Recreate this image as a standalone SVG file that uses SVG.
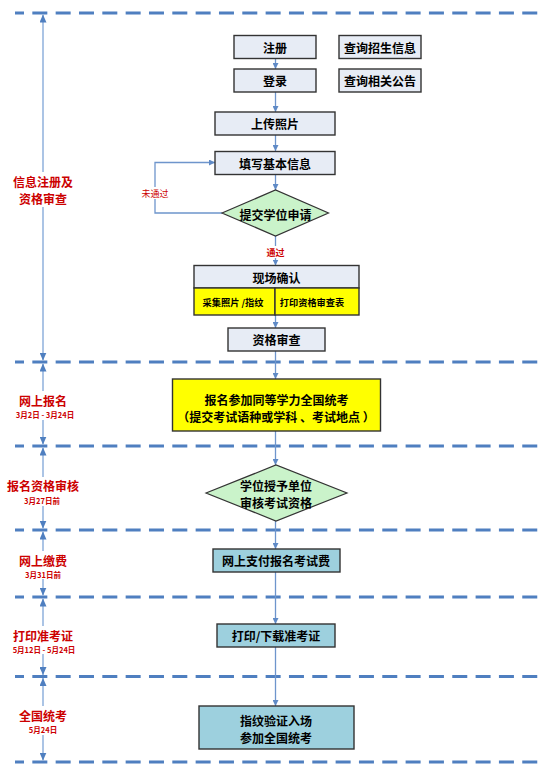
<svg xmlns="http://www.w3.org/2000/svg" width="541" height="774" viewBox="0 0 541 774">
<style>
text{font-family:"Noto Sans CJK SC","Liberation Sans",sans-serif;}
.dash{stroke:#4f7fc0;stroke-width:2.8;stroke-dasharray:15 8.33;stroke-dashoffset:6;fill:none;}
.axis{stroke:#8fb0dc;stroke-width:1.5;fill:none;}
.con{stroke:#6e95cc;stroke-width:1.3;fill:none;}
.box{fill:#e7ecf5;stroke:#333;stroke-width:1.4;}
.yel{fill:#ffff00;stroke:#333;stroke-width:1.4;}
.grn{fill:#caf3ca;stroke:#333;stroke-width:1.2;}
.teal{fill:#9dd0de;stroke:#333;stroke-width:1.4;}
.t{font-size:12px;font-weight:bold;fill:#000;text-anchor:middle;dominant-baseline:central;}
.s{font-size:9.2px;font-weight:bold;fill:#000;text-anchor:middle;dominant-baseline:central;}
.lab{font-size:12px;font-weight:bold;fill:#cc0000;text-anchor:middle;dominant-baseline:central;}
.date{font-size:7.5px;font-weight:bold;fill:#cc0000;text-anchor:middle;dominant-baseline:central;}
.red{font-size:9px;fill:#cc0000;text-anchor:middle;dominant-baseline:central;}
.wb{fill:#fff;}
</style>
<defs>
<marker id="ah" markerUnits="userSpaceOnUse" markerWidth="6" markerHeight="6" refX="6" refY="3" orient="auto-start-reverse"><path d="M0,0 L6,3 L0,6 Z" fill="#5f8ac6"/></marker>
<marker id="ax" markerUnits="userSpaceOnUse" markerWidth="8" markerHeight="7" refX="8" refY="3.5" orient="auto-start-reverse"><path d="M0,0 L8,3.5 L0,7 Z" fill="#4f7fc0"/></marker>
</defs>
<rect width="541" height="774" fill="#fff"/>
<g id="lanes">
<line class="dash" x1="15" y1="13" x2="541" y2="13"/>
<line class="dash" x1="15" y1="362" x2="541" y2="362"/>
<line class="dash" x1="15" y1="446" x2="541" y2="446"/>
<line class="dash" x1="15" y1="530" x2="541" y2="530"/>
<line class="dash" x1="15" y1="597" x2="541" y2="597"/>
<line class="dash" x1="15" y1="676.5" x2="541" y2="676.5"/>
<line class="dash" x1="15" y1="762" x2="541" y2="762"/>
</g>
<g id="axis">
<line class="axis" x1="43" y1="14.5" x2="43" y2="360.5" marker-start="url(#ax)" marker-end="url(#ax)"/>
<line class="axis" x1="43" y1="363.5" x2="43" y2="444.5" marker-start="url(#ax)" marker-end="url(#ax)"/>
<line class="axis" x1="43" y1="447.5" x2="43" y2="528.5" marker-start="url(#ax)" marker-end="url(#ax)"/>
<line class="axis" x1="43" y1="531.5" x2="43" y2="595.5" marker-start="url(#ax)" marker-end="url(#ax)"/>
<line class="axis" x1="43" y1="598.5" x2="43" y2="675" marker-start="url(#ax)" marker-end="url(#ax)"/>
<line class="axis" x1="43" y1="678" x2="43" y2="760.5" marker-start="url(#ax)" marker-end="url(#ax)"/>
</g>
<g id="stage-labels">
<rect class="wb" x="10" y="172" width="66" height="35"/>
<text class="lab" x="43" y="181">信息注册及</text>
<text class="lab" x="43" y="198.5">资格审查</text>
<rect class="wb" x="12" y="391" width="64" height="29"/>
<text class="lab" x="43" y="400">网上报名</text>
<text class="date" x="45" y="414.8">3月2日 - 3月24日</text>
<rect class="wb" x="4" y="477" width="78" height="29"/>
<text class="lab" x="43" y="485.5">报名资格审核</text>
<text class="date" x="42" y="500.5">3月27日前</text>
<rect class="wb" x="14" y="551" width="58" height="28"/>
<text class="lab" x="43" y="560">网上缴费</text>
<text class="date" x="43" y="574.5">3月31日前</text>
<rect class="wb" x="10" y="626" width="68" height="28"/>
<text class="lab" x="43" y="635">打印准考证</text>
<text class="date" x="44" y="649.5">5月12日 - 5月24日</text>
<rect class="wb" x="14" y="706" width="58" height="29"/>
<text class="lab" x="43" y="715">全国统考</text>
<text class="date" x="43" y="729.8">5月24日</text>
</g>
<g id="connectors">
<line class="con" x1="275.5" y1="58" x2="275.5" y2="69" marker-end="url(#ah)"/>
<line class="con" x1="275.5" y1="92" x2="275.5" y2="112" marker-end="url(#ah)"/>
<line class="con" x1="275.5" y1="135" x2="275.5" y2="151" marker-end="url(#ah)"/>
<line class="con" x1="275.5" y1="174" x2="275.5" y2="190" marker-end="url(#ah)"/>
<line class="con" x1="275.5" y1="236" x2="275.5" y2="265.5" marker-end="url(#ah)"/>
<line class="con" x1="275.5" y1="315" x2="275.5" y2="328" marker-end="url(#ah)"/>
<line class="con" x1="275.5" y1="351" x2="275.5" y2="379" marker-end="url(#ah)"/>
<line class="con" x1="275.5" y1="431" x2="275.5" y2="465" marker-end="url(#ah)"/>
<line class="con" x1="275.5" y1="521" x2="275.5" y2="549" marker-end="url(#ah)"/>
<line class="con" x1="275.5" y1="572" x2="275.5" y2="624" marker-end="url(#ah)"/>
<line class="con" x1="275.5" y1="647" x2="275.5" y2="706" marker-end="url(#ah)"/>
<polyline class="con" points="222,213 155,213 155,162.5 215,162.5" marker-end="url(#ah)"/>
<rect class="wb" x="141" y="187" width="28" height="12"/>
<text class="red" x="155" y="193">未通过</text>
<rect class="wb" x="265" y="246" width="21" height="12"/>
<text class="red" x="275.5" y="252" font-weight="bold">通过</text>
</g>
<g id="n-register"><rect class="box" x="234" y="35.5" width="82" height="23"/><text class="t" x="275" y="47">注册</text></g>
<g id="n-query-info"><rect class="box" x="339" y="35.5" width="82" height="23"/><text class="t" x="380" y="47">查询招生信息</text></g>
<g id="n-login"><rect class="box" x="234" y="69" width="82" height="23"/><text class="t" x="275" y="80.5">登录</text></g>
<g id="n-query-notice"><rect class="box" x="339" y="69" width="82" height="23"/><text class="t" x="380" y="80.5">查询相关公告</text></g>
<g id="n-photo"><rect class="box" x="215" y="112" width="120" height="23"/><text class="t" x="275" y="123.5">上传照片</text></g>
<g id="n-basic"><rect class="box" x="215" y="151.5" width="120" height="23"/><text class="t" x="275" y="163">填写基本信息</text></g>
<g id="n-apply"><polygon class="grn" points="222,213 275.5,190 328.5,213 275.5,236"/><text class="t" x="275.5" y="214">提交学位申请</text></g>
<g id="n-confirm">
<rect class="box" x="194" y="265.5" width="165" height="22.5"/>
<text class="t" x="276.5" y="277">现场确认</text>
<rect class="yel" x="194" y="288" width="81" height="27"/>
<rect class="yel" x="275" y="288" width="84" height="27"/>
<text class="s" x="233" y="301.5">采集照片 /指纹</text>
<text class="s" x="312" y="301.5">打印资格审查表</text>
</g>
<g id="n-review"><rect class="box" x="228" y="328" width="97" height="23"/><text class="t" x="276.5" y="339.5">资格审查</text></g>
<g id="n-enroll"><rect class="yel" x="172.5" y="379" width="208" height="52"/>
<text class="t" x="276.5" y="399.5">报名参加同等学力全国统考</text>
<text class="t" x="276" y="416.5">（提交考试语种或学科 、考试地点 ）</text></g>
<g id="n-verify"><polygon class="grn" points="206,493 276,465 347,493 276,521"/>
<text class="t" x="276" y="485.5">学位授予单位</text>
<text class="t" x="276" y="502.5">审核考试资格</text></g>
<g id="n-pay"><rect class="teal" x="213" y="549" width="127" height="23"/><text class="t" x="276" y="560.5">网上支付报名考试费</text></g>
<g id="n-print"><rect class="teal" x="217" y="624" width="118" height="23"/><text class="t" x="276" y="635.5">打印/下载准考证</text></g>
<g id="n-exam"><rect class="teal" x="199" y="706" width="155" height="43"/>
<text class="t" x="276" y="720">指纹验证入场</text>
<text class="t" x="276" y="737">参加全国统考</text></g>
</svg>
